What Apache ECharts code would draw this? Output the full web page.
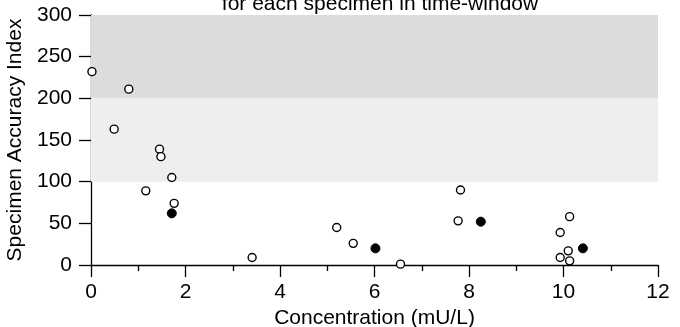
<!DOCTYPE html>
<html>
<head>
<meta charset="utf-8">
<script src="https://cdn.jsdelivr.net/npm/echarts@6/dist/echarts.min.js"></script>
<style>
  html, body { margin: 0; padding: 0; background: #fff; }
  #main { width: 680px; height: 327px; }
</style>
</head>
<body>
<div id="main"></div>
<script>
  // open circles
  var openX = [0.02, 0.80, 0.49, 1.45, 1.48, 1.71, 1.16, 1.76, 3.41, 5.20, 5.55, 6.55, 7.82, 7.77, 10.13, 9.93, 10.10, 9.93, 10.13];
  var openY = [232, 211, 163, 139, 130, 105, 89, 74, 9, 45, 26, 1, 90, 53, 58, 39, 17, 9, 5];
  // filled circles
  var filledX = [1.71, 6.02, 8.25, 10.41];
  var filledY = [62, 20, 52, 20];
  // shaded bands (y ranges)
  var bandHigh = [200, 300];
  var bandMid = [100, 200];

  var font = '"Liberation Sans", Arial, sans-serif';

  function pairs(xs, ys) {
    return xs.map(function (x, i) { return [x, ys[i]]; });
  }

  var myChart = echarts.init(document.getElementById('main'), null, { renderer: 'canvas' });

  var option = {
    animation: false,
    backgroundColor: '#fff',
    title: {
      text: 'for each specimen in time-window',
      left: 375,
      top: -11,
      textAlign: 'center',
      textStyle: { color: '#000', fontSize: 21, fontWeight: 'normal', fontFamily: font }
    },
    grid: { left: 91, right: 22, top: 15, bottom: 62, containLabel: false, outerBoundsMode: 'none' },
    xAxis: {
      type: 'value',
      min: 0, max: 12, interval: 2,
      name: 'Concentration (mU/L)',
      nameLocation: 'middle',
      nameGap: 31,
      nameTextStyle: { color: '#000', fontSize: 21, fontFamily: font },
      axisLine: { show: true, lineStyle: { color: '#000', width: 1.3 } },
      axisTick: { show: true, length: 12, lineStyle: { color: '#000', width: 1.3 } },
      minorTick: { show: true, splitNumber: 2, length: 6, lineStyle: { color: '#000', width: 1.3 } },
      axisLabel: { color: '#000', fontSize: 21, fontFamily: font, margin: 17 },
      splitLine: { show: false }
    },
    yAxis: {
      type: 'value',
      min: 0, max: 300, interval: 50,
      name: 'Specimen Accuracy Index',
      nameLocation: 'middle',
      nameGap: 58,
      nameTextStyle: { color: '#000', fontSize: 21, fontFamily: font },
      axisLine: { show: true, lineStyle: { color: '#000', width: 1.3 } },
      axisTick: { show: true, length: 12, lineStyle: { color: '#000', width: 1.3 } },
      axisLabel: { color: '#000', fontSize: 21, fontFamily: font, margin: 19 },
      splitLine: { show: false }
    },
    series: [
      {
        name: 'bands',
        type: 'scatter',
        data: [],
        silent: true,
        markArea: {
          silent: true,
          data: [
            [{ yAxis: bandHigh[0], itemStyle: { color: '#dcdcdc' } }, { yAxis: bandHigh[1] }],
            [{ yAxis: bandMid[0], itemStyle: { color: '#eeeeee' } }, { yAxis: bandMid[1] }]
          ]
        }
      },
      {
        name: 'open',
        type: 'scatter',
        symbol: 'circle',
        symbolSize: 8,
        itemStyle: { color: '#fff', borderColor: '#000', borderWidth: 1.4, opacity: 1 },
        data: pairs(openX, openY),
        z: 3
      },
      {
        name: 'filled',
        type: 'scatter',
        symbol: 'circle',
        symbolSize: 9,
        itemStyle: { color: '#000', borderColor: '#000', borderWidth: 1, opacity: 1 },
        data: pairs(filledX, filledY),
        z: 3
      }
    ]
  };

  myChart.setOption(option);
</script>
</body>
</html>
